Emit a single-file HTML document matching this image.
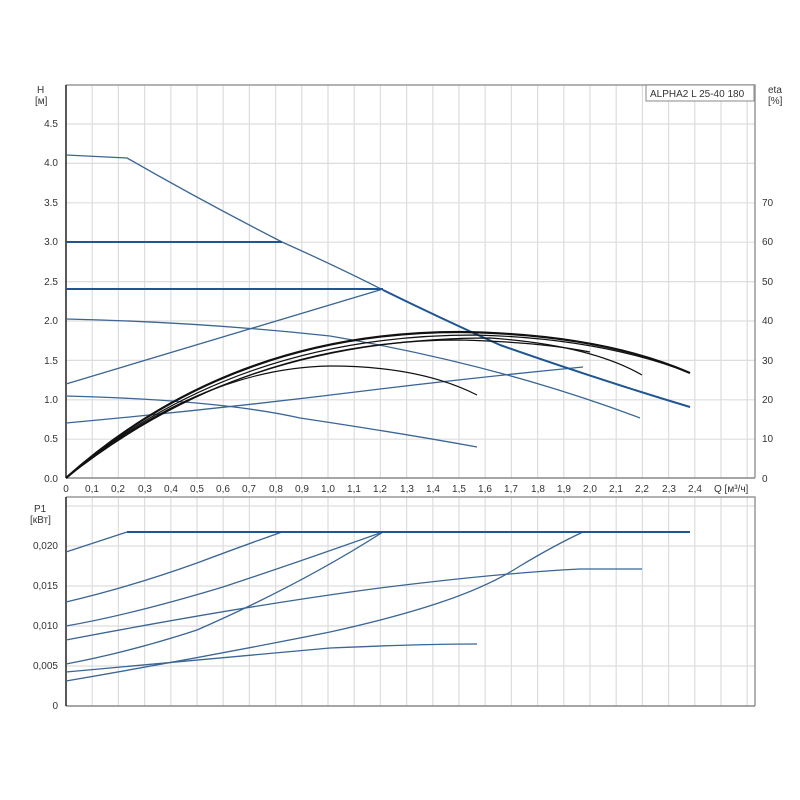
<!DOCTYPE html>
<html><head><meta charset="utf-8"><style>
body{margin:0;background:#fff;}
svg{display:block;font-family:"Liberation Sans",sans-serif;}
.t{font-size:10px;fill:#333;}
</style></head><body>
<svg width="800" height="800" viewBox="0 0 800 800" xmlns="http://www.w3.org/2000/svg">
<rect width="800" height="800" fill="#fff"/>
<g stroke="#ddd" stroke-width="1.2" fill="none">
<path d="M92.2 85V478M118.4 85V478M144.6 85V478M170.8 85V478M197 85V478M223.2 85V478M249.4 85V478M275.6 85V478M301.8 85V478M328 85V478M354.2 85V478M380.4 85V478M406.6 85V478M432.8 85V478M459 85V478M485.2 85V478M511.4 85V478M537.6 85V478M563.8 85V478M590 85V478M616.2 85V478M642.4 85V478M668.6 85V478M694.8 85V478M721 85V478M747.2 85V478"/>
<path d="M92.2 497V706M118.4 497V706M144.6 497V706M170.8 497V706M197 497V706M223.2 497V706M249.4 497V706M275.6 497V706M301.8 497V706M328 497V706M354.2 497V706M380.4 497V706M406.6 497V706M432.8 497V706M459 497V706M485.2 497V706M511.4 497V706M537.6 497V706M563.8 497V706M590 497V706M616.2 497V706M642.4 497V706M668.6 497V706M694.8 497V706M721 497V706M747.2 497V706"/>
<path d="M66 124H755M66 163.4H755M66 202.8H755M66 242.2H755M66 281.6H755M66 321H755M66 360.4H755M66 399.8H755M66 439.2H755"/>
<path d="M66 506H755M66 546H755M66 586H755M66 626H755M66 666H755"/>
</g>
<g fill="none" stroke-width="1.5">
<path d="M66 85 H755 V478" stroke="#999"/>
<path d="M66 478 H755" stroke="#888"/>
<path d="M66 85 V478" stroke="#222"/>
<path d="M66 497 H755 V706" stroke="#999"/>
<path d="M66 706 H755" stroke="#888"/>
<path d="M66 497 V706" stroke="#222"/>
</g>
<rect x="646" y="85" width="108" height="16" fill="#fff" stroke="#888"/>
<text x="650" y="97" class="t">ALPHA2 L 25-40 180</text>
<g class="t" text-anchor="end">
<text x="58" y="127">4.5</text><text x="58" y="166">4.0</text><text x="58" y="206">3.5</text><text x="58" y="245">3.0</text><text x="58" y="285">2.5</text><text x="58" y="324">2.0</text><text x="58" y="364">1.5</text><text x="58" y="403">1.0</text><text x="58" y="442">0.5</text><text x="58" y="482">0.0</text>
<text x="58" y="549">0,020</text><text x="58" y="589">0,015</text><text x="58" y="629">0,010</text><text x="58" y="669">0,005</text><text x="58" y="709">0</text>
</g>
<g class="t">
<text x="762" y="482">0</text><text x="762" y="442">10</text><text x="762" y="403">20</text><text x="762" y="364">30</text><text x="762" y="324">40</text><text x="762" y="285">50</text><text x="762" y="245">60</text><text x="762" y="206">70</text>
<text x="768" y="93">eta</text><text x="768" y="104">[%]</text>
<text x="37" y="93">H</text><text x="35" y="104">[м]</text>
<text x="34" y="512">P1</text><text x="30" y="523">[кВт]</text>
<text x="714" y="492">Q [м³/ч]</text>
</g>
<g class="t" text-anchor="middle">
<text x="66" y="492">0</text><text x="92" y="492">0,1</text><text x="118" y="492">0,2</text><text x="145" y="492">0,3</text><text x="171" y="492">0,4</text><text x="197" y="492">0,5</text><text x="223" y="492">0,6</text><text x="249" y="492">0,7</text><text x="276" y="492">0,8</text><text x="302" y="492">0,9</text><text x="328" y="492">1,0</text><text x="354" y="492">1,1</text><text x="380" y="492">1,2</text><text x="407" y="492">1,3</text><text x="433" y="492">1,4</text><text x="459" y="492">1,5</text><text x="485" y="492">1,6</text><text x="511" y="492">1,7</text><text x="538" y="492">1,8</text><text x="564" y="492">1,9</text><text x="590" y="492">2,0</text><text x="616" y="492">2,1</text><text x="642" y="492">2,2</text><text x="669" y="492">2,3</text><text x="695" y="492">2,4</text>
</g>
<g fill="none" stroke="#3a6596" stroke-width="1.3">
<path d="M66 155 L127 158 Q200 200 282 242 Q340 268 383 290 Q440 318 500 345 Q600 380 690 407"/>
<path d="M66 384 L383 289"/>
<path d="M66 319 Q200 322 330 336 Q500 365 640 418"/>
<path d="M66 396 Q220 400 300 418 Q400 433 477 447"/>
<path d="M66 423 Q220 409 380 389 Q480 377 583 367"/>
</g>
<g fill="none" stroke="#1f5591" stroke-width="2">
<path d="M66 242 H282"/>
<path d="M66 289 H383"/>
<path d="M383 290 Q440 318 500 345 Q600 380 690 407"/>
</g>
<g fill="none" stroke="#111" stroke-width="1.2">
<path d="M66 478 Q230 332 460 332 Q600 334 690 373" stroke-width="2.2"/>
<path d="M66 478 Q233 335 475 335 Q600 338 690 373"/>
<path d="M66 478 Q235 338 490 338 Q590 345 642 375"/>
<path d="M66 478 Q240 340 460 340 Q540 342 590 352"/>
<path d="M66 478 Q200 368 330 366 Q420 366 477 395"/>
</g>
<g fill="none" stroke="#3a6596" stroke-width="1.3">
<path d="M66 552 L127 532"/>
<path d="M66 602 Q130 587 197 563 Q245 545 282 532"/>
<path d="M66 626 Q130 615 223 587 Q290 565 383 532"/>
<path d="M66 640 Q250 605 380 588 Q500 573 580 569 L642 569"/>
<path d="M66 664 Q130 652 197 630 Q300 585 383 532"/>
<path d="M66 672 Q200 660 330 648 Q420 644 477 644"/>
<path d="M66 681 Q200 658 330 632 C420 612 480 592 520 566 Q555 545 583 532"/>
</g>
<path d="M127 532 H690" fill="none" stroke="#1f5591" stroke-width="2"/>
</svg>
</body></html>
